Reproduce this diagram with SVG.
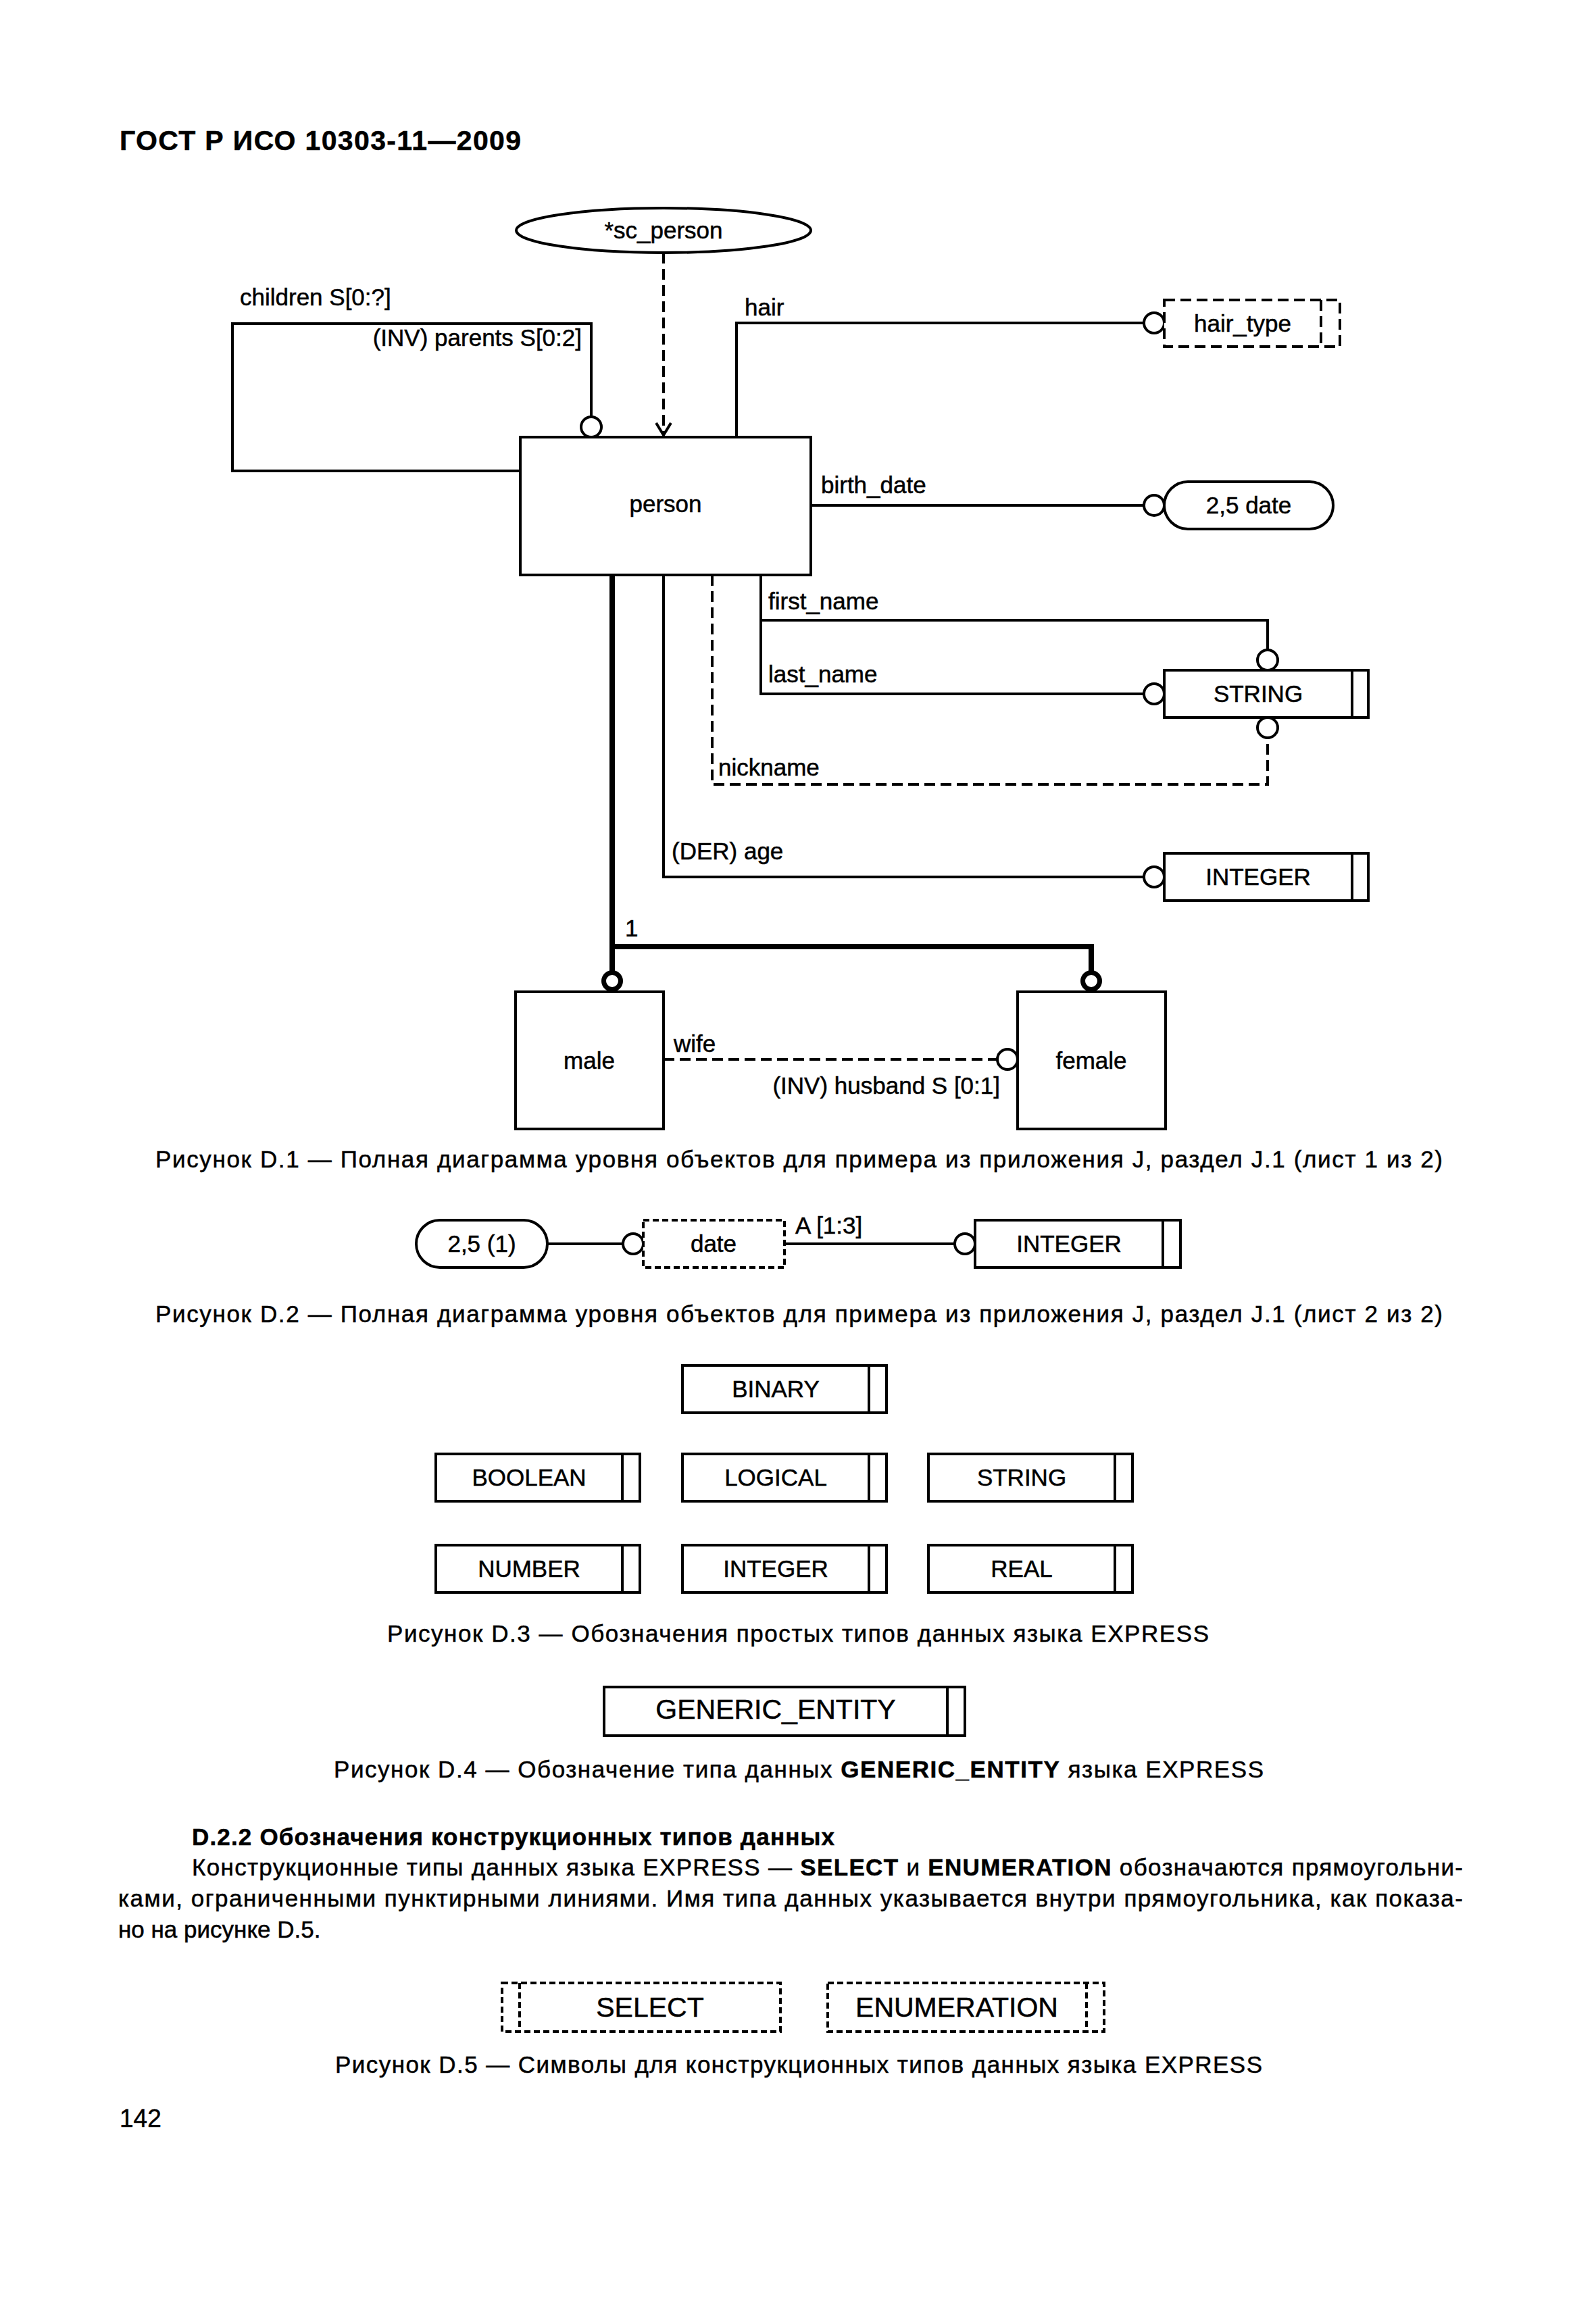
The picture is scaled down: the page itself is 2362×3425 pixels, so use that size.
<svg xmlns="http://www.w3.org/2000/svg" width="2362" height="3425" viewBox="0 0 2362 3425">
<style>
.ln{fill:none;stroke:#000;stroke-width:4}
.dash{stroke-dasharray:16 8}
.fdash{stroke-dasharray:9 5}
.thick{fill:none;stroke:#000;stroke-width:8}
.box{fill:#fff;stroke:#000;stroke-width:4}
.oc{fill:#fff;stroke:#000;stroke-width:4}
.tc{fill:#fff;stroke:#000;stroke-width:7}
text{font-family:"Liberation Sans",Arial,Helvetica,sans-serif;font-size:35px;fill:#000;stroke:#000;stroke-width:0.5}
.m{text-anchor:middle}
.e{text-anchor:end}
.b{font-weight:bold}
.big{font-size:41px}
</style>
<defs>
<marker id="openArrow" viewBox="0 0 20 24" refX="19" refY="12" markerWidth="20" markerHeight="24" markerUnits="userSpaceOnUse" orient="auto">
<path d="M1,1 L19,12 L1,23" fill="none" stroke="#000" stroke-width="4"/>
</marker>
</defs>
<rect width="2362" height="3425" fill="#fff"/>

<text x="177" y="222" class="b" style="font-size:41px" textLength="594">ГОСТ Р ИСО 10303-11—2009</text>

<g id="connectors">
<path class="ln dash" d="M982,374 V644" marker-end="url(#openArrow)"/>
<path class="ln" d="M770,697 H344 V479 H875 V617"/>
<circle class="oc" cx="875" cy="632" r="15"/>
<text x="355" y="452">children S[0:?]</text>
<text x="861" y="512" class="e">(INV) parents S[0:2]</text>
<path class="ln" d="M1090,647 V478 H1693"/>
<circle class="oc" cx="1708" cy="478" r="15"/>
<text x="1102" y="467">hair</text>
<path class="ln" d="M1200,748 H1693"/>
<circle class="oc" cx="1708" cy="748" r="15"/>
<text x="1215" y="730">birth_date</text>
<path class="ln" d="M1126,851 V1027 H1693 M1126,918 H1876 V962"/>
<circle class="oc" cx="1708" cy="1027" r="15"/>
<circle class="oc" cx="1876" cy="977" r="15"/>
<text x="1137" y="902">first_name</text>
<text x="1137" y="1010">last_name</text>
<path class="ln dash" d="M1054,851 V1161 H1876 V1092"/>
<circle class="oc" cx="1876" cy="1077" r="15"/>
<text x="1063" y="1148">nickname</text>
<path class="ln" d="M982,851 V1298 H1693"/>
<circle class="oc" cx="1708" cy="1298" r="15"/>
<text x="994" y="1272">(DER) age</text>
<path class="thick" d="M906,851 V1440 M906,1401 H1615 V1440"/>
<circle class="tc" cx="906" cy="1452" r="12.5"/>
<circle class="tc" cx="1615" cy="1452" r="12.5"/>
<text x="925" y="1386">1</text>
<path class="ln dash" d="M982,1568 H1476"/>
<circle class="oc" cx="1491" cy="1568" r="15"/>
<text x="997" y="1557">wife</text>
<text x="1480" y="1619" class="e">(INV) husband S [0:1]</text>
<path class="ln" d="M810,1841 H922 M1161,1841 H1413"/>
<circle class="oc" cx="937" cy="1841" r="15"/>
<circle class="oc" cx="1428" cy="1841" r="15"/>
<text x="1177" y="1826">A [1:3]</text>
</g>

<g id="sc_person">
<ellipse class="box" cx="982" cy="341" rx="218" ry="33"/>
<text x="982" y="353" class="m">*sc_person</text>
</g>
<g id="person">
<rect class="box" x="770" y="647" width="430" height="204"/>
<text x="985" y="758" class="m">person</text>
</g>
<g id="hair_type">
<rect class="box dash" x="1723" y="444" width="260" height="69"/>
<path class="ln dash" d="M1955,444 V513"/>
<text x="1839" y="491" class="m">hair_type</text>
</g>
<g id="date_2_5">
<rect class="box" x="1723" y="713" width="250" height="70" rx="35" ry="35"/>
<text x="1848" y="760" class="m">2,5 date</text>
</g>
<g id="string">
<rect class="box" x="1723" y="992" width="302" height="70"/>
<path class="ln" d="M2001,992 V1062"/>
<text x="1862" y="1039" class="m">STRING</text>
</g>
<g id="integer">
<rect class="box" x="1723" y="1263" width="302" height="70"/>
<path class="ln" d="M2001,1263 V1333"/>
<text x="1862" y="1310" class="m">INTEGER</text>
</g>
<g id="male">
<rect class="box" x="763" y="1468" width="219" height="203"/>
<text x="872" y="1582" class="m">male</text>
</g>
<g id="female">
<rect class="box" x="1506" y="1468" width="219" height="203"/>
<text x="1615" y="1582" class="m">female</text>
</g>

<text x="230" y="1728" textLength="1905">Рисунок D.1 — Полная диаграмма уровня объектов для примера из приложения J, раздел J.1 (лист 1 из 2)</text>

<g id="d2_2_5_1">
<rect class="box" x="616" y="1806" width="194" height="70" rx="35" ry="35"/>
<text x="713" y="1853" class="m">2,5 (1)</text>
</g>
<g id="d2_date">
<rect class="box fdash" x="952" y="1806" width="209" height="70"/>
<text x="1056" y="1853" class="m">date</text>
</g>
<g id="d2_integer">
<rect class="box" x="1443" y="1806" width="304" height="70"/>
<path class="ln" d="M1721,1806 V1876"/>
<text x="1582" y="1853" class="m">INTEGER</text>
</g>

<text x="230" y="1957" textLength="1905">Рисунок D.2 — Полная диаграмма уровня объектов для примера из приложения J, раздел J.1 (лист 2 из 2)</text>

<g id="binary">
<rect class="box" x="1010" y="2021" width="302" height="70"/>
<path class="ln" d="M1286,2021 V2091"/>
<text x="1148" y="2068" class="m">BINARY</text>
</g>
<g id="boolean">
<rect class="box" x="645" y="2152" width="302" height="70"/>
<path class="ln" d="M921,2152 V2222"/>
<text x="783" y="2199" class="m">BOOLEAN</text>
</g>
<g id="logical">
<rect class="box" x="1010" y="2152" width="302" height="70"/>
<path class="ln" d="M1286,2152 V2222"/>
<text x="1148" y="2199" class="m">LOGICAL</text>
</g>
<g id="string_d3">
<rect class="box" x="1374" y="2152" width="302" height="70"/>
<path class="ln" d="M1650,2152 V2222"/>
<text x="1512" y="2199" class="m">STRING</text>
</g>
<g id="number">
<rect class="box" x="645" y="2287" width="302" height="70"/>
<path class="ln" d="M921,2287 V2357"/>
<text x="783" y="2334" class="m">NUMBER</text>
</g>
<g id="integer_d3">
<rect class="box" x="1010" y="2287" width="302" height="70"/>
<path class="ln" d="M1286,2287 V2357"/>
<text x="1148" y="2334" class="m">INTEGER</text>
</g>
<g id="real">
<rect class="box" x="1374" y="2287" width="302" height="70"/>
<path class="ln" d="M1650,2287 V2357"/>
<text x="1512" y="2334" class="m">REAL</text>
</g>

<text x="573" y="2430" textLength="1216">Рисунок D.3 — Обозначения простых типов данных языка EXPRESS</text>

<g id="generic_entity">
<rect class="box" x="894" y="2497" width="534" height="72"/>
<path class="ln" d="M1402,2497 V2569"/>
<text x="1148" y="2544" class="m big">GENERIC_ENTITY</text>
</g>

<text x="494" y="2631" textLength="1376">Рисунок D.4 — Обозначение типа данных <tspan class="b">GENERIC_ENTITY</tspan> языка EXPRESS</text>

<text x="284" y="2731" class="b" textLength="951">D.2.2 Обозначения конструкционных типов данных</text>
<text x="284" y="2776" textLength="1881">Конструкционные типы данных языка EXPRESS — <tspan class="b">SELECT</tspan> и <tspan class="b">ENUMERATION</tspan> обозначаются прямоугольни-</text>
<text x="175" y="2822" textLength="1990">ками, ограниченными пунктирными линиями. Имя типа данных указывается внутри прямоугольника, как показа-</text>
<text x="175" y="2868">но на рисунке D.5.</text>

<g id="select">
<rect class="box fdash" x="743" y="2935" width="412" height="72"/>
<path class="ln fdash" d="M769,2935 V3007"/>
<text x="962" y="2985" class="m big">SELECT</text>
</g>
<g id="enumeration">
<rect class="box fdash" x="1225" y="2935" width="409" height="72"/>
<path class="ln fdash" d="M1608,2935 V3007"/>
<text x="1416" y="2985" class="m big">ENUMERATION</text>
</g>

<text x="496" y="3068" textLength="1372">Рисунок D.5 — Символы для конструкционных типов данных языка EXPRESS</text>

<text x="177" y="3148" style="font-size:37px">142</text>
</svg>
